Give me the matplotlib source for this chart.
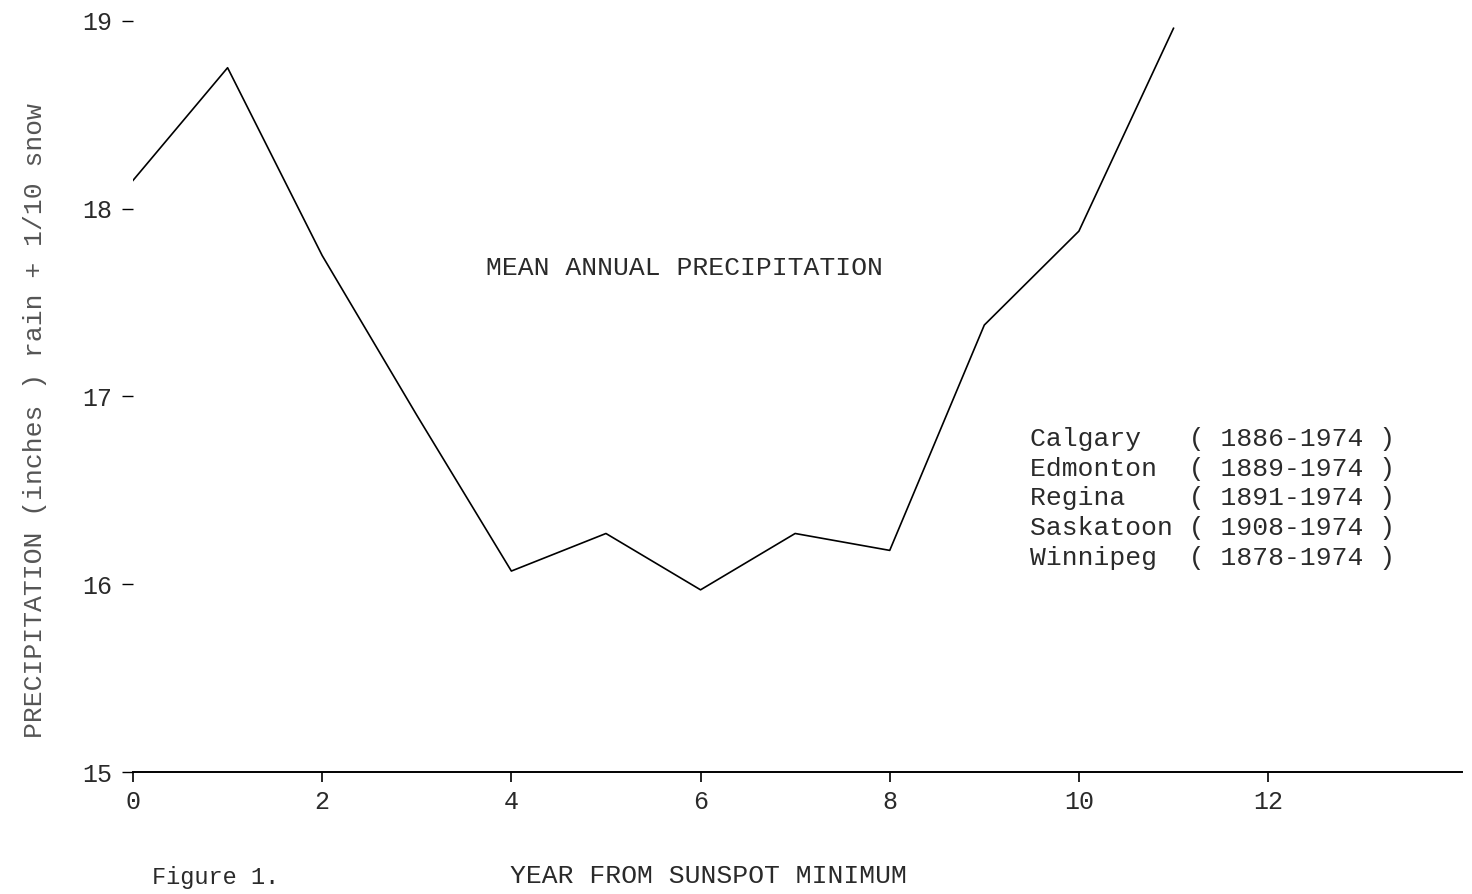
import matplotlib
matplotlib.use("Agg")
import matplotlib.pyplot as plt

# data
years = [0, 1, 2, 3, 4, 5, 6, 7, 8, 9, 10, 11]
precip = [18.15, 18.75, 17.75, 16.90, 16.07, 16.27, 15.97, 16.27, 16.18, 17.38, 17.88, 18.96]

stations = ["Calgary", "Edmonton", "Regina", "Saskatoon", "Winnipeg"]
periods = ["1886-1974", "1889-1974", "1891-1974", "1908-1974", "1878-1974"]

xticks = [0, 2, 4, 6, 8, 10, 12]
yticks = [15, 16, 17, 18, 19]

# typewriter look
mono = ["Liberation Mono", "DejaVu Sans Mono"]
ink = "#2a2a2a"
plt.rcParams['font.family'] = mono

fig = plt.figure(figsize=(14.72, 8.94), dpi=100)
ax = fig.add_axes([133 / 1472, 1 - 772 / 894, 1329 / 1472, 770 / 894])

ax.plot(years, precip, color="black", lw=1.2)

ax.set_xlim(0, 14.05)
ax.set_ylim(15, 19.1)
ax.set_xticks(xticks)
ax.set_yticks(yticks)

for s in ["top", "right", "left"]:
    ax.spines[s].set_visible(False)
ax.spines["bottom"].set_linewidth(1.4)

ax.tick_params(axis="x", direction="out", length=7, width=1.2, pad=6,
               labelsize=18, labelcolor=ink)
ax.tick_params(axis="y", direction="out", length=8, width=1.0, pad=7,
               labelsize=18, labelcolor=ink)
for lab in ax.get_xticklabels():
    lab.set_x(lab.get_position()[0])

ax.set_ylabel("PRECIPITATION (inches ) rain + 1/10 snow", fontsize=19, color="#555555")
ax.yaxis.set_label_coords(-0.0737, 0.457)
ax.yaxis.label.set_va("center")

ax.set_xlabel("YEAR FROM SUNSPOT MINIMUM", fontsize=19, color=ink)
ax.xaxis.set_label_coords(0.4327, -0.135)
ax.xaxis.label.set_va("center")

ax.text(0.4146, 0.6545, "MEAN ANNUAL PRECIPITATION", transform=ax.transAxes,
        ha="center", va="center", fontsize=19, color=ink)

# station list
lines = [f"{name:<10s}( {per} )" for name, per in zip(stations, periods)]
ax.text(0.675, 0.448, "\n".join(lines), transform=ax.transAxes,
        ha="left", va="top", fontsize=19, color=ink, linespacing=1.3)

fig.text(152 / 1472, 1 - 866 / 894, "Figure 1.", ha="left", va="top",
         fontsize=17, color=ink)

fig.savefig("out.png", dpi=100, facecolor="white")
